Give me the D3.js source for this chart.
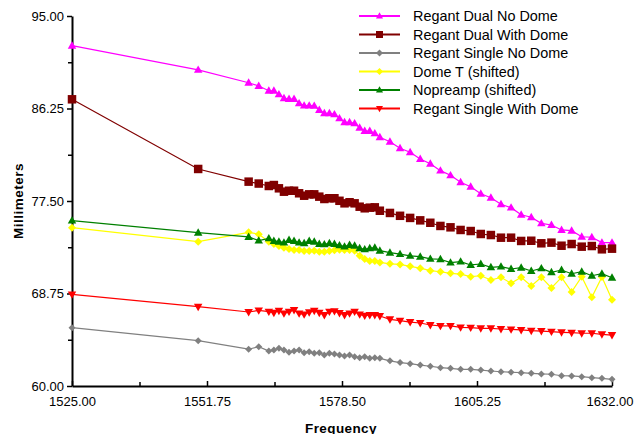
<!DOCTYPE html>
<html>
<head>
<meta charset="utf-8">
<script src="https://cdn.jsdelivr.net/npm/d3@7"></script>
<style>
  html, body { margin: 0; padding: 0; background: #fff; }
  svg { display: block; font-family: "Liberation Sans", Arial, sans-serif; }
</style>
</head>
<body>
<svg id="chart" width="635" height="434"></svg>
<script>
// ---------- DATA ----------
const frequency = [1525, 1550, 1560, 1562, 1564, 1565, 1566, 1567, 1568, 1569, 1570, 1571, 1572, 1573, 1574, 1575, 1576, 1577, 1578, 1579, 1580, 1581, 1582, 1583, 1584, 1585, 1586, 1588, 1590, 1592, 1594, 1596, 1598, 1600, 1602, 1604, 1606, 1608, 1610, 1612, 1614, 1616, 1618, 1620, 1622, 1624, 1626, 1628, 1630, 1632];

const regantDualNoDome = [92.19, 89.90, 88.69, 88.38, 87.93, 87.93, 87.59, 87.22, 87.15, 87.15, 86.74, 86.52, 86.52, 86.50, 86.11, 85.80, 85.80, 85.70, 85.32, 84.95, 84.95, 84.85, 84.43, 84.12, 84.12, 83.90, 83.53, 83.11, 82.49, 82.11, 81.47, 81.03, 80.37, 79.93, 79.27, 78.85, 78.19, 77.81, 77.19, 76.87, 76.20, 75.96, 75.39, 75.23, 74.76, 74.69, 74.12, 74.07, 73.56, 73.56];

const regantDualWithDome = [87.12, 80.53, 79.33, 79.15, 78.92, 79.01, 78.70, 78.38, 78.47, 78.47, 78.23, 78.00, 78.13, 78.13, 77.91, 77.69, 77.76, 77.76, 77.52, 77.28, 77.38, 77.28, 76.96, 76.81, 76.87, 76.90, 76.58, 76.37, 76.10, 75.90, 75.67, 75.44, 75.14, 75.01, 74.76, 74.66, 74.38, 74.28, 74.03, 74.03, 73.72, 73.74, 73.50, 73.56, 73.27, 73.43, 73.18, 73.24, 72.93, 72.99];

const regantSingleNoDome = [65.52, 64.29, 63.48, 63.72, 63.31, 63.41, 63.57, 63.41, 63.19, 63.31, 63.41, 63.15, 63.25, 63.09, 63.15, 62.93, 63.09, 63.03, 62.93, 62.84, 62.93, 62.77, 62.68, 62.77, 62.62, 62.68, 62.62, 62.38, 62.22, 62.11, 61.98, 61.87, 61.73, 61.67, 61.58, 61.58, 61.51, 61.42, 61.35, 61.30, 61.26, 61.20, 61.14, 61.11, 60.97, 60.95, 60.88, 60.79, 60.73, 60.63];

const domeTShifted = [74.98, 73.65, 74.54, 74.36, 73.65, 73.43, 73.24, 73.08, 72.96, 72.87, 72.87, 72.77, 72.77, 72.80, 72.70, 72.70, 72.77, 72.85, 72.90, 72.87, 72.87, 72.80, 72.33, 72.01, 71.82, 71.82, 71.69, 71.56, 71.50, 71.32, 71.15, 70.91, 70.81, 70.66, 70.59, 70.34, 70.43, 70.03, 70.28, 69.72, 70.28, 69.46, 70.28, 69.28, 70.28, 68.90, 70.34, 68.39, 70.31, 68.17];

const nopreampShifted = [75.64, 74.50, 74.10, 73.75, 73.97, 73.72, 73.65, 73.56, 73.81, 73.72, 73.56, 73.50, 73.72, 73.65, 73.43, 73.40, 73.50, 73.43, 73.30, 73.18, 73.34, 73.27, 73.03, 72.93, 73.03, 73.08, 72.80, 72.61, 72.47, 72.31, 72.23, 72.03, 71.99, 71.67, 71.76, 71.45, 71.54, 71.23, 71.29, 71.07, 71.19, 70.88, 71.13, 70.76, 70.97, 70.62, 70.81, 70.43, 70.62, 70.24];

const regantSingleWithDome = [68.67, 67.50, 67.00, 67.15, 67.03, 66.93, 67.12, 66.87, 67.03, 67.19, 66.87, 66.78, 66.97, 67.12, 66.93, 66.72, 67.03, 67.08, 66.90, 66.72, 66.87, 67.03, 66.78, 66.65, 66.72, 66.72, 66.62, 66.31, 66.18, 66.05, 65.96, 65.77, 65.68, 65.68, 65.55, 65.52, 65.46, 65.46, 65.39, 65.36, 65.30, 65.23, 65.20, 65.14, 65.08, 65.04, 64.99, 64.99, 64.89, 64.82];

const seriesNames = ["Regant Dual No Dome", "Regant Dual With Dome", "Regant Single No Dome", "Dome T (shifted)", "Nopreamp (shifted)", "Regant Single With Dome"];
const seriesValues = [regantDualNoDome, regantDualWithDome, regantSingleNoDome, domeTShifted, nopreampShifted, regantSingleWithDome];

const xTicks = [1525, 1551.75, 1578.5, 1605.25, 1632];
const yTicks = [60, 68.75, 77.5, 86.25, 95];
const xTitle = "Frequency";
const yTitle = "Millimeters";

// ---------- STYLE ----------
const colors = ["#FF00FF", "#800000", "#808080", "#FFFF00", "#008000", "#FF0000"];
const shapes = ["triUp", "square", "diamond", "diamond", "triUp", "triDown"];
const markerSize = [8.5, 8.5, 7, 8, 8.5, 8.5];

const svg = d3.select("#chart");
const x = d3.scaleLinear().domain([1525, 1632]).range([72, 612]);
const y = d3.scaleLinear().domain([60, 95]).range([386, 16]);

function shapePath(kind, w) {
  const h = w / 2;
  if (kind === "square") return `M${-h},${-h}H${h}V${h}H${-h}Z`;
  if (kind === "diamond") return `M0,${-h}L${h},0L0,${h}L${-h},0Z`;
  const th = w * 0.866;
  if (kind === "triUp") return `M0,${-th * 0.6}L${h},${th * 0.4}L${-h},${th * 0.4}Z`;
  return `M0,${th * 0.6}L${h},${-th * 0.4}L${-h},${-th * 0.4}Z`;
}

// ---------- AXES ----------
const fmt = d3.format(".2f");
const mid = a => a.slice(1).map((v, i) => (v + a[i]) / 2);

svg.append("g").attr("transform", "translate(72,0)")
  .call(d3.axisLeft(y).tickValues(yTicks).tickFormat(fmt).tickSizeInner(5).tickSizeOuter(0).tickPadding(3));
svg.append("g").attr("transform", "translate(72,0)")
  .call(d3.axisLeft(y).tickValues(mid(yTicks)).tickFormat("").tickSizeInner(4).tickSizeOuter(0))
  .call(g => g.select(".domain").remove());

const xAxisG = svg.append("g").attr("transform", "translate(0,386)")
  .call(d3.axisBottom(x).tickValues(xTicks).tickFormat(fmt).tickSizeInner(-5).tickSizeOuter(0).tickPadding(11));
svg.append("g").attr("transform", "translate(0,386)")
  .call(d3.axisBottom(x).tickValues(mid(xTicks)).tickFormat("").tickSizeInner(-4).tickSizeOuter(0))
  .call(g => g.select(".domain").remove());

svg.selectAll(".domain").attr("stroke", "#000").attr("stroke-width", 2);
svg.selectAll(".tick line").attr("stroke", "#000").attr("stroke-width", 1.5);
svg.selectAll(".tick text").attr("font-size", 13).attr("fill", "#000")
  .attr("font-family", "'Liberation Sans', Arial, sans-serif");
// keep the last x label inside the picture, as in the reference
xAxisG.selectAll(".tick text").filter(d => d === 1632).attr("text-anchor", "end").attr("x", 21);

svg.append("text").attr("x", 341).attr("y", 432.5).attr("text-anchor", "middle")
  .attr("font-size", 13.5).attr("font-weight", "bold").attr("letter-spacing", 0.4).text(xTitle);
svg.append("text").attr("transform", "translate(23,201) rotate(-90)").attr("text-anchor", "middle")
  .attr("font-size", 13.5).attr("font-weight", "bold").attr("letter-spacing", 0.5).text(yTitle);

// ---------- SERIES ----------
const line = d3.line().x(d => x(d[0])).y(d => y(d[1]));
seriesValues.forEach((vals, i) => {
  const pts = frequency.map((f, j) => [f, vals[j]]);
  const g = svg.append("g");
  g.append("path").datum(pts).attr("d", line).attr("fill", "none")
    .attr("stroke", colors[i]).attr("stroke-width", 1.2);
  g.selectAll("path.m").data(pts).enter().append("path").attr("class", "m")
    .attr("transform", d => `translate(${x(d[0])},${y(d[1])})`)
    .attr("d", shapePath(shapes[i], markerSize[i]))
    .attr("fill", colors[i]);
});

// ---------- LEGEND ----------
const legend = svg.append("g");
seriesNames.forEach((name, i) => {
  const ly = 16 + i * 18.5;
  legend.append("line").attr("x1", 359).attr("x2", 400).attr("y1", ly).attr("y2", ly)
    .attr("stroke", colors[i]).attr("stroke-width", 2);
  legend.append("path").attr("transform", `translate(379.5,${ly})`)
    .attr("d", shapePath(shapes[i], 7)).attr("fill", colors[i]);
  legend.append("text").attr("x", 413).attr("y", ly + 5).attr("font-size", 14.4)
    .attr("fill", "#000").text(name);
});
</script>
</body>
</html>
